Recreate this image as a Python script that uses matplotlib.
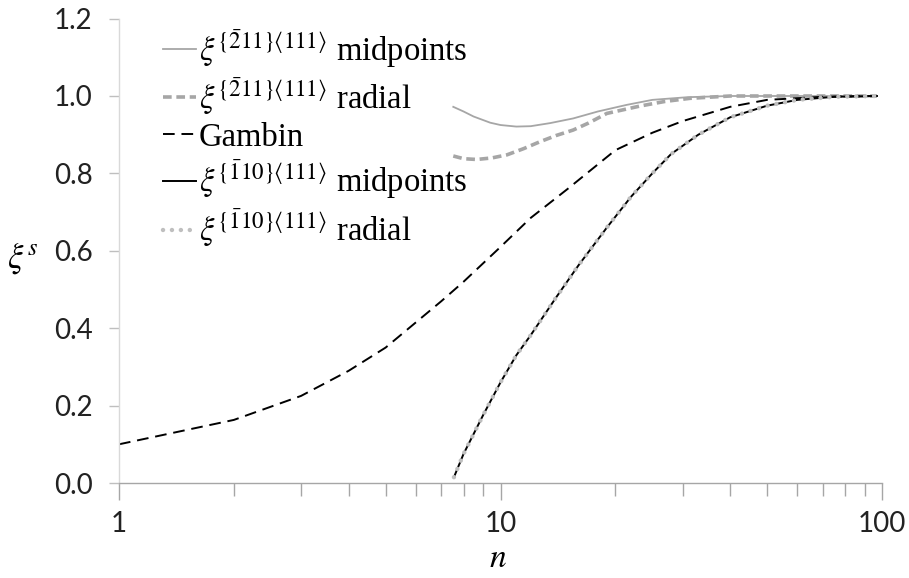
import matplotlib.pyplot as plt
from matplotlib.ticker import FixedLocator, LogLocator, NullFormatter

plt.rcParams['mathtext.fontset'] = 'stix'

# shape factor xi^s against n
n_gambin = [1, 2, 3, 4, 5, 6, 7, 8, 10, 12, 15, 20, 25, 30, 40, 50, 70, 97]
xi_gambin = [0.10, 0.163, 0.225, 0.29, 0.35, 0.415, 0.47, 0.52, 0.61, 0.685,
             0.76, 0.86, 0.905, 0.935, 0.972, 0.99, 0.998, 1.0]

n_211_mid = [7.52, 8, 8.5, 9.4, 10, 11, 12, 13.5, 15.5, 18, 21.4, 25, 31, 40, 60, 97]
xi_211_mid = [0.972, 0.96, 0.947, 0.931, 0.925, 0.921, 0.922, 0.93, 0.942,
              0.96, 0.977, 0.99, 0.997, 1.0, 1.0, 1.0]

n_211_rad = [7.52, 8, 8.66, 9.5, 10.4, 11.5, 12.7, 14, 15.5, 17, 19, 23.2, 27,
             31.4, 40, 60, 97]
xi_211_rad = [0.845, 0.838, 0.836, 0.84, 0.848, 0.864, 0.882, 0.898, 0.912,
              0.93, 0.955, 0.974, 0.986, 0.994, 1.0, 1.0, 1.0]

n_110_mid = [7.55, 8, 9, 10, 11, 12, 14, 16, 19, 22, 25, 28, 33, 40, 50, 60, 75, 97]
xi_110_mid = [0.015, 0.075, 0.175, 0.26, 0.33, 0.382, 0.48, 0.562, 0.66, 0.74,
              0.80, 0.85, 0.90, 0.945, 0.975, 0.99, 0.998, 1.0]

n_110_rad = [7.55, 8, 9, 10, 11, 12, 14, 16, 19, 22, 25, 28, 33, 40, 50, 60, 75, 97]
xi_110_rad = [0.015, 0.075, 0.175, 0.26, 0.33, 0.382, 0.48, 0.562, 0.66, 0.74,
              0.80, 0.85, 0.90, 0.945, 0.975, 0.99, 0.998, 1.0]

y_ticks = [0.0, 0.2, 0.4, 0.6, 0.8, 1.0, 1.2]

lbl_211_mid = r'$\xi^{\{\bar{2}11\}\langle111\rangle}$ midpoints'
lbl_211_rad = r'$\xi^{\{\bar{2}11\}\langle111\rangle}$ radial'
lbl_110_mid = r'$\xi^{\{\bar{1}10\}\langle111\rangle}$ midpoints'
lbl_110_rad = r'$\xi^{\{\bar{1}10\}\langle111\rangle}$ radial'

fig = plt.figure(figsize=(9.09, 5.78), dpi=100)
ax = fig.add_axes([119 / 909, 1 - 483 / 578, (882 - 119) / 909, (483 - 18.6) / 578])

ax.plot(n_211_mid, xi_211_mid, color='#a6a6a6', lw=1.3, label=lbl_211_mid)
ax.plot(n_211_rad, xi_211_rad, color='#a6a6a6', lw=2.6,
        dashes=(2.4, 1.3), label=lbl_211_rad)
ax.plot(n_gambin, xi_gambin, color='black', lw=1.4, dashes=(6, 3.5), label='Gambin')
ax.plot(n_110_mid, xi_110_mid, color='black', lw=1.4, label=lbl_110_mid)
ax.plot(n_110_rad, xi_110_rad, color='#bfbfbf', lw=3.2,
        linestyle=(0, (0.01, 2.0)), dash_capstyle='round', label=lbl_110_rad)

ax.set_xscale('log')
ax.set_xlim(1, 100)
ax.set_ylim(0, 1.2)
ax.yaxis.set_major_locator(FixedLocator(y_ticks))
ax.set_yticklabels([f'{v:.1f}' for v in y_ticks])
ax.xaxis.set_major_locator(FixedLocator([1, 10, 100]))
ax.set_xticklabels(['1', '10', '100'])
ax.xaxis.set_minor_locator(LogLocator(base=10, subs=range(2, 10)))
ax.xaxis.set_minor_formatter(NullFormatter())

for s in ['top', 'right']:
    ax.spines[s].set_visible(False)
ax.spines['left'].set_color('#d9d9d9')
ax.spines['bottom'].set_color('#a6a6a6')
ax.spines['left'].set_linewidth(1.0)
ax.spines['bottom'].set_linewidth(1.0)

ax.tick_params(axis='y', which='major', direction='out', length=7, width=1,
               color='#bfbfbf', labelsize=20, pad=12)
ax.tick_params(axis='x', which='major', direction='out', length=12, width=1,
               color='#a6a6a6', labelsize=20, pad=8)
ax.tick_params(axis='x', which='minor', direction='out', length=9, width=1,
               color='#a6a6a6')
for lab in ax.get_xticklabels() + ax.get_yticklabels():
    lab.set_family('Lato')
    lab.set_color('#222222')

ax.set_ylabel(r'$\xi^s$', fontsize=25, rotation=0, ha='center', va='center')
ax.yaxis.set_label_coords(-0.127, 0.485)
ax.set_xlabel(r'$n$', fontsize=24)
ax.xaxis.set_label_coords(0.497, -0.124)

ax.legend(loc='upper left', bbox_to_anchor=(163 / 909, 1 - 27 / 578),
          bbox_transform=fig.transFigure, frameon=False,
          prop={'family': 'Liberation Serif', 'size': 23.5},
          handlelength=1.0, handletextpad=0.1, labelspacing=0.17,
          borderaxespad=0, borderpad=0)

fig.savefig('out.png', dpi=100)
